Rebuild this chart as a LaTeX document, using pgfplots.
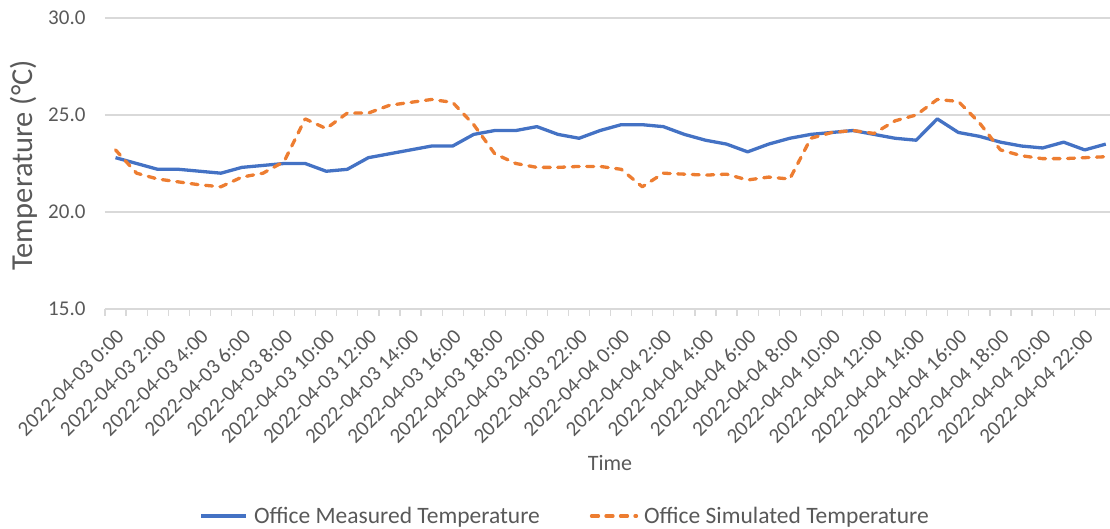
\documentclass[border=0pt]{standalone}
\usepackage{pgfplots}
\pgfplotsset{compat=1.18}
\usepackage{fontspec}
\setmainfont{Carlito}
\definecolor{txt}{RGB}{89,89,89}
\definecolor{grd}{RGB}{217,217,217}
\definecolor{cblue}{RGB}{68,114,196}
\definecolor{corange}{RGB}{237,125,49}
\pgfplotstableread{
i meas sim
0 22.8 23.2
1 22.5 22.0
2 22.2 21.7
3 22.2 21.55
4 22.1 21.4
5 22.0 21.3
6 22.3 21.8
7 22.4 22.0
8 22.5 22.6
9 22.5 24.8
10 22.1 24.3
11 22.2 25.1
12 22.8 25.1
13 23.0 25.5
14 23.2 25.65
15 23.4 25.8
16 23.4 25.65
17 24.0 24.5
18 24.2 23.0
19 24.2 22.5
20 24.4 22.3
21 24.0 22.3
22 23.8 22.35
23 24.2 22.35
24 24.5 22.2
25 24.5 21.3
26 24.4 22.0
27 24.0 21.95
28 23.7 21.9
29 23.5 21.95
30 23.1 21.65
31 23.5 21.8
32 23.8 21.7
33 24.0 23.8
34 24.1 24.1
35 24.2 24.2
36 24.0 24.05
37 23.8 24.7
38 23.7 25.0
39 24.8 25.8
40 24.1 25.7
41 23.9 24.6
42 23.6 23.2
43 23.4 22.9
44 23.3 22.75
45 23.6 22.75
46 23.2 22.8
47 23.5 22.85
}\datatable
\begin{document}
\begin{tikzpicture}
\useasboundingbox (0,0) rectangle (1110pt,529pt);
\begin{axis}[
  at={(105pt,220pt)}, anchor=south west,
  scale only axis, width=1005pt, height=291pt,
  xmin=-0.5, xmax=47.2, ymin=15, ymax=30,
  axis line style={draw=none},
  ytick={15,20,25,30},
  yticklabels={15.0,20.0,25.0,30.0},
  ymajorgrids, major grid style={grd, line width=1.2pt},
  xtick={0,2,...,46},
  xticklabels={2022-04-03 0:00,2022-04-03 2:00,2022-04-03 4:00,2022-04-03 6:00,2022-04-03 8:00,2022-04-03 10:00,2022-04-03 12:00,2022-04-03 14:00,2022-04-03 16:00,2022-04-03 18:00,2022-04-03 20:00,2022-04-03 22:00,2022-04-04 0:00,2022-04-04 2:00,2022-04-04 4:00,2022-04-04 6:00,2022-04-04 8:00,2022-04-04 10:00,2022-04-04 12:00,2022-04-04 14:00,2022-04-04 16:00,2022-04-04 18:00,2022-04-04 20:00,2022-04-04 22:00},
  minor xtick={-0.5,0.5,...,46.5},
  xtick pos=bottom, ytick pos=left,
  tick align=outside,
  major tick length=0pt,
  minor tick length=7pt,
  minor tick style={grd, line width=1.2pt},
  yticklabel shift=16pt,
  every y tick label/.append style={font=\fontsize{21}{25}\selectfont, text=txt},
  every x tick label/.append style={font=\fontsize{21}{25}\selectfont, text=txt, xshift=5pt, yshift=-24pt, rotate=45, anchor=east, inner sep=0pt},
  xlabel={Time},
  xlabel style={at={(axis description cs:0.5025,-0.529)}, anchor=center, font=\fontsize{22}{26}\selectfont, text=txt},
  ylabel={Temperature (°C)},
  ylabel style={at={(axis description cs:-0.0806,0.4935)}, anchor=center, font=\fontsize{30.5}{34}\selectfont, text=txt},
  legend style={at={(0.458,-0.711)}, anchor=center, draw=none, fill=none, font=\fontsize{23.5}{28}\selectfont, text=txt, legend columns=2, /tikz/every even column/.append style={column sep=48pt}},
  legend cell align=left,
  legend image code/.code={\draw[#1] (0pt,0pt) -- (45pt,0pt); \path (49pt,0pt);},
]
\addplot[cblue, line width=3.3pt, line join=round] table[x=i, y=meas] {\datatable};
\addlegendentry{Office Measured Temperature}
\addplot[corange, line width=3.3pt, line join=round, line cap=round, dash pattern=on 7pt off 7.5pt] table[x=i, y=sim] {\datatable};
\addlegendentry{Office Simulated Temperature}
\end{axis}
\end{tikzpicture}
\end{document}
